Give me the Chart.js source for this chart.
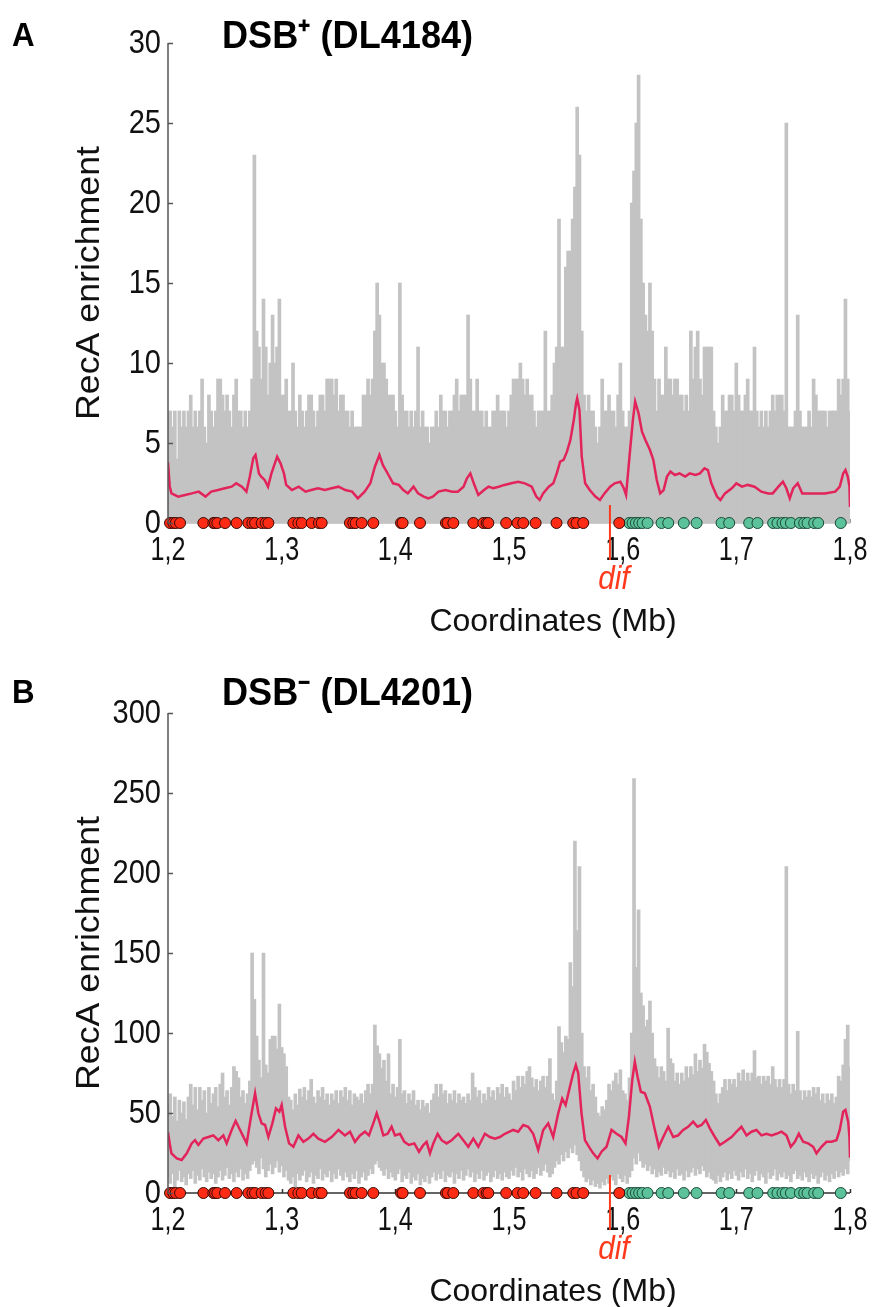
<!DOCTYPE html>
<html>
<head>
<meta charset="utf-8">
<script src="https://cdn.jsdelivr.net/npm/chart.js@4.4.1/dist/chart.umd.min.js"></script>
<style>
  html, body { margin: 0; padding: 0; background: #fff; }
  #wrap { position: relative; width: 874px; height: 1307px; }
  canvas { position: absolute; left: 0; }
</style>
</head>
<body>
<div id="wrap">
  <canvas id="chartA" width="874" height="653" style="top:0"></canvas>
  <canvas id="chartB" width="874" height="654" style="top:653px"></canvas>
</div>
<script>
// ---- data ----
const binStart = 1.2;      // Mb, first bin of the raw signal
const binStep = 0.002;     // Mb per bin

// panel A: raw RecA enrichment (per bin maximum)
const rawA = [
  7,7,6,7,4,7,6,7,6,7, 8,6,7,6,7,9,6,5,8,7, 6,7,9,9,8,7,8,7,6,8, 9,7,7,6,7,6,7,9,23,12,
  11,9,14,11,8,10,13,10,11,14, 8,8,9,7,7,10,7,6,8,7, 6,7,8,8,7,6,7,8,8,7, 9,9,9,8,9,7,8,8,7,7,
  6,7,6,6,6,6,8,8,9,8, 9,12,15,13,10,10,9,8,8,8, 7,6,15,8,7,7,6,7,6,7, 11,6,7,6,6,5,6,6,7,6,
  8,7,7,6,7,7,8,9,7,8, 8,8,13,9,7,7,9,7,7,6, 7,6,6,7,7,8,7,7,7,6, 7,8,9,9,9,10,9,8,9,8,
  8,7,6,7,7,7,12,7,7,8, 10,11,19,11,11,16,17,17,19,21, 26,23,12,8,7,8,7,7,6,5, 6,9,7,7,8,7,7,6,8,10,
  7,6,6,7,20,22,25,28,19,15, 13,12,15,12,9,7,9,8,8,11, 9,9,8,9,9,8,8,7,8,7, 12,9,11,12,9,8,11,11,11,11,
  7,6,5,6,8,7,7,8,8,7, 10,8,7,7,8,9,7,7,11,7, 6,7,6,7,6,7,8,7,8,8, 8,7,25,6,6,6,7,13,7,6,
  6,6,7,6,9,8,7,7,7,7, 6,7,7,7,7,9,8,9,14,9, 7
];

// panel B: raw RecA enrichment, per bin range (high / low)
const rawBHigh = [
  55,62,48,60,45,58,50,57,46,60, 68,55,66,52,66,58,64,50,66,56, 62,66,54,68,75,60,64,55,66,79,
  76,72,60,64,56,62,70,150,121,98, 83,72,150,80,75,96,98,98,90,118, 91,87,79,60,58,52,62,55,65,60,
  66,58,64,71,60,56,64,60,66,58, 62,55,62,58,64,56,64,60,66,58, 64,55,62,60,58,62,56,64,68,62,
  68,105,92,87,78,83,70,87,62,68, 60,66,96,62,64,56,62,58,64,55, 58,52,58,54,56,50,58,62,68,60,
  68,62,64,56,62,58,64,56,62,58, 60,56,62,58,75,66,60,64,56,62, 58,66,60,64,58,66,62,68,60,66,
  62,58,70,64,73,66,73,68,76,79, 72,66,71,64,70,73,66,73,84,62, 58,70,104,94,88,98,96,144,129,220,
  164,204,100,79,72,79,64,68,60,50, 48,54,52,58,68,64,70,75,68,77, 64,62,58,72,100,259,141,177,125,117,
  104,108,120,100,84,79,72,79,76,70, 103,84,81,70,75,68,75,70,79,72, 79,74,87,76,83,78,93,88,81,76,
  70,62,56,62,66,71,64,71,68,71, 66,75,70,77,70,75,70,75,89,72, 73,68,73,70,73,68,79,71,66,71,
  66,71,204,68,62,68,64,101,64,58, 64,60,64,60,66,62,66,58,62,56, 62,58,62,56,60,73,70,80,96,105, 79
];
const rawBLow = [
  10,6,12,4,8,14,7,10,5,12, 9,14,6,11,8,15,10,7,13,9, 12,6,10,14,8,11,16,9,12,7,
  13,10,15,8,12,9,14,18,20,16, 12,22,15,10,14,18,12,16,20,13, 17,10,14,8,6,10,4,12,8,11,
  14,7,10,13,6,11,9,15,8,12, 10,14,7,12,9,15,11,8,13,10, 7,12,9,14,6,10,13,8,11,15,
  12,18,20,16,14,11,15,9,13,10, 8,12,15,7,11,9,13,6,10,8, 12,5,9,7,11,6,10,13,8,12,
  9,14,7,11,10,13,6,12,9,14, 8,11,15,10,13,7,12,9,14,8, 11,13,7,10,14,9,12,8,13,10,
  9,14,11,16,10,13,8,15,12,10, 14,9,12,16,11,14,18,13,10,12, 16,20,18,24,20,26,22,28,25,30,
  24,20,14,10,7,9,5,8,4,6, 3,7,5,9,6,10,8,5,12,9, 7,11,6,10,14,22,18,25,20,16,
  18,14,17,12,15,10,13,11,16,12, 14,10,13,9,15,11,12,8,14,10, 13,16,11,15,12,17,14,10,13,9,
  8,6,11,7,10,13,8,12,9,14, 11,8,13,10,15,9,12,7,11,14, 8,12,10,6,13,9,11,15,8,12,
  10,13,9,11,7,12,14,9,11,8, 13,10,7,12,9,11,6,10,13,8, 11,7,12,9,14,10,13,11,15,12, 20
];

// smoothed profiles (pink)
const smoothAPos = [
  1.200,1.2015,1.203,1.209,1.215,1.221,1.227,1.233,1.238,1.244,1.250,1.256,1.260,1.265,1.269,1.272,1.275,1.277,1.280,1.282,
  1.285,1.288,1.291,1.294,1.296,1.299,1.302,1.304,1.309,1.315,1.321,1.326,1.332,1.338,1.344,1.350,1.356,1.362,1.367,1.373,
  1.378,1.382,1.386,1.389,1.394,1.398,1.403,1.407,1.411,1.416,1.420,1.425,1.429,1.433,1.438,1.444,1.450,1.455,1.460,1.463,
  1.466,1.469,1.473,1.478,1.482,1.486,1.491,1.496,1.502,1.508,1.514,1.520,1.524,1.527,1.530,1.535,1.539,1.542,1.545,1.548,
  1.551,1.554,1.557,1.559,1.560,1.562,1.564,1.567,1.571,1.576,1.580,1.584,1.589,1.593,1.598,1.601,1.603,1.606,1.609,1.611,
  1.614,1.617,1.620,1.624,1.627,1.630,1.633,1.636,1.639,1.642,1.646,1.650,1.655,1.659,1.664,1.668,1.672,1.675,1.678,1.683,
  1.686,1.690,1.696,1.700,1.705,1.710,1.716,1.722,1.728,1.732,1.737,1.741,1.744,1.747,1.750,1.754,1.758,1.762,1.769,1.778,
  1.787,1.791,1.794,1.796,1.798,1.7995,1.800
];
const smoothAVal = [
  3.8,2.3,1.85,1.65,1.75,1.85,1.96,1.65,1.96,2.06,2.17,2.27,2.48,2.27,1.96,2.9,4.04,4.25,3.1,2.9,
  2.69,2.27,3.1,3.73,4.15,3.73,3.1,2.38,2.06,2.27,1.96,2.06,2.17,2.06,2.17,2.27,2.06,1.96,1.54,1.96,
  2.48,3.52,4.25,3.63,3.0,2.48,2.38,2.06,1.85,2.27,1.85,1.65,1.54,1.65,1.96,2.06,1.96,1.96,2.27,2.79,
  3.1,2.48,1.75,2.06,2.27,2.17,2.27,2.38,2.48,2.58,2.48,2.27,1.65,1.44,1.85,2.27,2.48,3.1,3.83,3.94,
  4.46,5.19,6.44,7.48,7.79,7.06,4.15,2.48,2.06,1.65,1.44,1.85,2.27,2.48,2.58,2.17,1.75,4.15,6.44,7.58,
  6.85,5.71,5.19,4.56,3.94,2.69,1.85,2.06,2.9,3.21,3.0,3.1,2.9,3.1,3.0,3.1,3.42,3.31,2.48,1.65,
  1.44,1.85,2.17,2.48,2.27,2.38,2.27,1.96,1.85,1.85,2.27,2.58,2.17,1.54,2.17,2.48,1.85,1.85,1.85,1.85,
  1.96,2.27,3.1,3.31,2.9,2.3,1.0
];
const smoothBPos = [
  1.200,1.2015,1.203,1.2077,1.212,1.2165,1.2208,1.2238,1.2267,1.2311,1.2355,1.2399,1.2443,1.2487,1.2516,1.256,1.2595,1.2634,1.2692,1.273,
  1.2766,1.2795,1.2824,1.2854,1.2883,1.2918,1.295,1.298,1.300,1.303,1.3065,1.3103,1.3147,1.3191,1.3235,1.3279,1.3322,1.3381,1.344,1.350,
  1.3557,1.3601,1.3645,1.3689,1.3733,1.3768,1.3806,1.3836,1.3865,1.3894,1.3932,1.3967,1.3997,1.4041,1.4079,1.412,1.4167,1.4208,1.4246,1.4275,
  1.4305,1.4334,1.4372,1.4407,1.4451,1.4495,1.4554,1.4598,1.4642,1.4686,1.473,1.4788,1.4832,1.4876,1.492,1.4964,1.5037,1.5081,1.5125,1.5169,
  1.5213,1.5257,1.5301,1.5345,1.5389,1.5433,1.5468,1.5498,1.5536,1.5565,1.5588,1.5609,1.5638,1.5668,1.5712,1.5741,1.5779,1.5814,1.5858,1.5902,
  1.5946,1.599,1.6025,1.6055,1.6084,1.6107,1.6131,1.616,1.6195,1.6239,1.6277,1.6318,1.6357,1.6401,1.6445,1.6488,1.6532,1.6576,1.662,1.6658,
  1.6694,1.6732,1.6767,1.6811,1.6855,1.6899,1.6958,1.7002,1.7045,1.709,1.7133,1.7177,1.7221,1.7265,1.7309,1.7353,1.7397,1.7441,1.7479,1.7515,
  1.755,1.7588,1.7632,1.7676,1.7705,1.7749,1.7793,1.7837,1.7881,1.791,1.794,1.796,1.7984,1.7995,1.800
];
const smoothBVal = [
  38,31,24.8,21.6,20.6,24.8,31,33,30,34,35,36,33,36,31,39.4,45,39.4,31,47.7,
  62.3,49.8,43.5,42.5,35,43.5,52.9,50.8,55,41.4,31,28.9,36,32,34,37,34,32,35,39.4,
  36,38.3,32,36,38.3,36,43.5,49.8,43.5,36,37,41.4,36,37,32,30,31,25.8,30,32,
  24.8,31,37,33,31,33,37,33,28.9,34,28.9,37,35,34,35,37,39.4,38.3,42.5,41.4,
  37,26.9,39.4,43.5,35,49.8,59,55,66.4,74.8,80,74.8,49.8,33,27.9,24.8,21.6,25.8,28.9,39.4,
  37,35,31,47.7,70.6,82,72.7,63.3,62.3,54,41.4,28.9,35,41.4,35,36,39.4,41.4,44.6,41.4,
  42.5,45.6,40.4,35,30,32,35,38.3,41.4,36,38.3,39.4,36,37,36,37,38.3,36,28.9,32,
  37,32,31,28.9,24.8,28.9,32,32,33,39.4,50.8,51.9,44.6,35,22
];

// sites marked along the axis (same in both panels)
const redSites = [
  1.2018,1.2047,1.2068,1.2106,1.2311,1.2399,1.2414,1.2434,1.2502,1.2604,1.2707,1.2742,1.2766,1.2824,1.2859,1.2883,
  1.3103,1.3147,1.3176,1.3264,1.3328,1.3352,1.3601,1.3630,1.3651,1.3704,1.3806,1.4050,1.4064,1.4217,1.4445,1.4460,
  1.4510,1.4686,1.4774,1.4803,1.4818,1.4975,1.5075,1.5125,1.5234,1.5418,1.5565,1.5594,1.5653,1.5970
];
const tealSites = [
  1.6058,1.6087,1.6116,1.6145,1.6175,1.6219,1.6342,1.6401,1.6538,1.6650,1.6870,1.6937,1.7113,1.7186,1.7324,1.7362,
  1.7406,1.7435,1.7480,1.7559,1.7597,1.7626,1.7685,1.7720,1.7919
];
const difPos = 1.5888;

const xTickValues = [1.2, 1.3, 1.4, 1.5, 1.6, 1.7, 1.8];
const yTicksA = [0, 5, 10, 15, 20, 25, 30];
const yTicksB = [0, 50, 100, 150, 200, 250, 300];

// ---- drawing ----
const FONT = '"Liberation Sans", Arial, Helvetica, sans-serif';
const GRAY = '#c3c3c3';
const PINK = '#e2245b';
const AXIS = '#555555';

function drawText(ctx, str, x, y, font, color, align, baseline, sx) {
  ctx.save();
  ctx.font = font;
  ctx.fillStyle = color;
  ctx.textAlign = align;
  ctx.textBaseline = baseline;
  ctx.translate(x, y);
  ctx.scale(sx, 1);
  ctx.fillText(str, 0, 0);
  ctx.restore();
}

const decor = {
  id: 'decor',
  beforeDatasetsDraw(chart, args, o) {
    const {ctx, chartArea: a, scales: {x, y}} = chart;
    const y0 = y.getPixelForValue(0);
    ctx.save();
    ctx.strokeStyle = o.xAxisColor;
    ctx.lineWidth = o.xAxisWidth;
    ctx.beginPath();
    ctx.moveTo(a.left, y0);
    ctx.lineTo(a.right, y0);
    xTickValues.forEach(v => {
      const px = Math.round(x.getPixelForValue(v)) + 0.5;
      ctx.moveTo(px, y0);
      ctx.lineTo(px, y0 - 4);
    });
    ctx.stroke();
    ctx.restore();
  },
  afterDraw(chart, args, o) {
    const {ctx, chartArea: a, scales: {x, y}} = chart;
    ctx.save();
    // y axis line and inner ticks
    ctx.strokeStyle = AXIS;
    ctx.lineWidth = 1.5;
    ctx.beginPath();
    ctx.moveTo(a.left, a.top);
    ctx.lineTo(a.left, a.bottom);
    y.ticks.forEach(t => {
      const py = Math.round(y.getPixelForValue(t.value)) + 0.5;
      ctx.moveTo(a.left, py);
      ctx.lineTo(a.left + 5, py);
    });
    ctx.stroke();
    ctx.restore();

    y.ticks.forEach(t => {
      drawText(ctx, String(t.value), a.left - 7, y.getPixelForValue(t.value) + 1,
        '33px ' + FONT, '#111', 'right', 'middle', 0.88);
    });
    x.ticks.forEach(t => {
      drawText(ctx, t.value.toFixed(1).replace('.', ','), x.getPixelForValue(t.value), a.bottom + 37,
        '34px ' + FONT, '#111', 'center', 'alphabetic', 0.74);
    });

    // dif marker
    const dx = x.getPixelForValue(difPos);
    ctx.save();
    ctx.strokeStyle = '#ff3a1c';
    ctx.lineWidth = 2;
    ctx.beginPath();
    ctx.moveTo(dx, a.bottom - 18);
    ctx.lineTo(dx, a.bottom + 37);
    ctx.stroke();
    ctx.restore();
    drawText(ctx, 'dif', dx + 4, a.bottom + 66, 'italic 33px ' + FONT, '#ff3a1c', 'center', 'alphabetic', 0.9);

    // titles
    drawText(ctx, 'Coordinates (Mb)', o.xTitleX, a.bottom + 108, '32px ' + FONT, '#111', 'center', 'alphabetic', 1.0);
    ctx.save();
    ctx.translate(o.yTitleX, (a.top + a.bottom) / 2);
    ctx.rotate(-Math.PI / 2);
    drawText(ctx, 'RecA enrichment', 0, 0, '34px ' + FONT, '#111', 'center', 'middle', 1.05);
    ctx.restore();
    drawText(ctx, o.letter, 12, o.titleBase - 2, 'bold 34px ' + FONT, '#000', 'left', 'alphabetic', 0.92);
    drawText(ctx, o.title, 222, o.titleBase, 'bold 38px ' + FONT, '#000', 'left', 'alphabetic', 0.95);
  }
};

function makePanel(canvasId, cfg) {
  return new Chart(document.getElementById(canvasId), {
    type: 'line',
    data: {
      datasets: [
        {
          type: 'scatter',
          data: redSites.map(s => ({x: s, y: 0})),
          backgroundColor: '#ff2b14',
          borderColor: '#3a0c06',
          borderWidth: 1,
          pointRadius: 5.5,
          clip: false,
          order: 1
        },
        {
          type: 'scatter',
          data: tealSites.map(s => ({x: s, y: 0})),
          backgroundColor: '#5cc29b',
          borderColor: '#1b4a38',
          borderWidth: 1,
          pointRadius: 5.5,
          clip: false,
          order: 1
        },
        {
          type: 'line',
          data: cfg.smoothPos.map((p, i) => ({x: p, y: cfg.smoothVal[i]})),
          borderColor: PINK,
          borderWidth: 2.5,
          pointRadius: 0,
          tension: 0,
          fill: false,
          order: 2
        },
        {
          type: 'bar',
          data: cfg.raw,
          backgroundColor: GRAY,
          borderWidth: 0,
          barThickness: 3,
          order: 3
        }
      ]
    },
    options: {
      responsive: false,
      animation: false,
      events: [],
      layout: { padding: cfg.padding },
      plugins: {
        legend: { display: false },
        tooltip: { enabled: false },
        decor: cfg.decor
      },
      scales: {
        x: {
          type: 'linear', min: 1.2, max: 1.8, offset: false, display: false,
          afterBuildTicks: s => { s.ticks = xTickValues.map(v => ({value: v})); }
        },
        y: {
          type: 'linear', min: 0, max: cfg.yMax, display: false,
          afterBuildTicks: s => { s.ticks = cfg.yTicks.map(v => ({value: v})); }
        }
      }
    },
    plugins: [decor]
  });
}

makePanel('chartA', {
  raw: rawA.map((v, i) => ({x: binStart + i * binStep, y: v})),
  smoothPos: smoothAPos, smoothVal: smoothAVal,
  yMax: 30, yTicks: yTicksA,
  padding: {left: 168, right: 24, top: 43, bottom: 130},
  decor: {letter: 'A', title: 'DSB\u207A (DL4184)', titleBase: 48, xTitleX: 553, yTitleX: 90,
          xAxisColor: '#9a9a9a', xAxisWidth: 1}
});

makePanel('chartB', {
  raw: rawBHigh.map((v, i) => ({x: binStart + i * binStep, y: [rawBLow[i], v]})),
  smoothPos: smoothBPos, smoothVal: smoothBVal,
  yMax: 300, yTicks: yTicksB,
  padding: {left: 168, right: 24, top: 60, bottom: 114},
  decor: {letter: 'B', title: 'DSB\u207B (DL4201)', titleBase: 52, xTitleX: 553, yTitleX: 90,
          xAxisColor: '#333333', xAxisWidth: 1.5}
});
</script>
</body>
</html>
